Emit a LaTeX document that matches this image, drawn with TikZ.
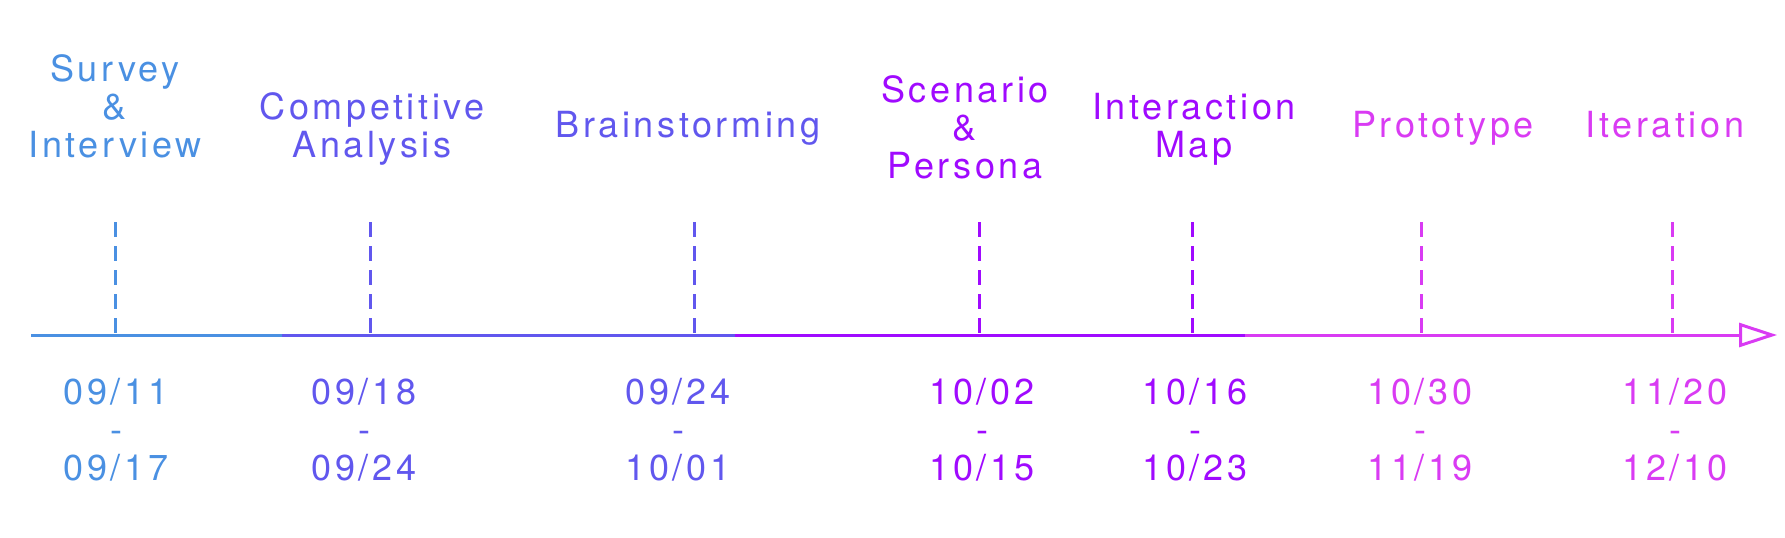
\documentclass[tikz,border=0pt]{standalone}
\usepackage{fontspec}
\setmainfont{TeX Gyre Heros}[LetterSpace=10]
\usetikzlibrary{arrows.meta}
\usepackage{xcolor}
\definecolor{phaseblue}{HTML}{4A90E2}
\definecolor{phaseindigo}{HTML}{6157EE}
\definecolor{phasepurple}{HTML}{A00AFF}
\definecolor{phasepink}{HTML}{D93BF3}

\begin{document}
\begin{tikzpicture}[x=0.5pt,y=-0.5pt]
\tikzstyle{every node}+=[inner sep=0pt,font=\fontsize{18}{19}\selectfont,align=center,anchor=base]
\tikzstyle{tick}=[line width=1.5pt,dash pattern=on 7.5pt off 4.5pt]
\tikzstyle{axis}=[line width=1.5pt]
\useasboundingbox (0,0) rectangle (1785,537);
% axis
\coordinate (a0) at (31,335);
\coordinate (a1) at (282,335);
\coordinate (a2) at (735,335);
\coordinate (a3) at (1245,335);
\coordinate (a4) at (1777,335);
\draw [axis,phaseblue] (a0) -- (a1);
\draw [axis,phaseindigo] (a1) -- (a2);
\draw [axis,phasepurple] (a2) -- (a3);
\draw [axis,phasepink,-{Triangle[open,length=19pt,width=12pt]}] (a3) -- (a4);
% ticks
\coordinate (k1) at (115,222);
\coordinate (k2) at (370,222);
\coordinate (k3) at (694,222);
\coordinate (k4) at (979,222);
\coordinate (k5) at (1192,222);
\coordinate (k6) at (1421,222);
\coordinate (k7) at (1672,222);
\draw [tick,phaseblue] (k1) -- (k1 |- a0);
\draw [tick,phaseindigo] (k2) -- (k2 |- a0);
\draw [tick,phaseindigo] (k3) -- (k3 |- a0);
\draw [tick,phasepurple] (k4) -- (k4 |- a0);
\draw [tick,phasepurple] (k5) -- (k5 |- a0);
\draw [tick,phasepink] (k6) -- (k6 |- a0);
\draw [tick,phasepink] (k7) -- (k7 |- a0);
% phases (base = last line)
\node [text=phaseblue] (survey) at (115,157) {Survey\\\&\\Interview};
\node [text=phaseindigo] (compet) at (372,157) {Competitive\\Analysis};
\node [text=phaseindigo] (brain) at (688,137) {Brainstorming};
\node [text=phasepurple] (scen) at (965,178) {Scenario\\\&\\Persona};
\node [text=phasepurple] (imap) at (1194,157) {Interaction\\Map};
\node [text=phasepink] (proto) at (1443,137) {Prototype};
\node [text=phasepink] (iter) at (1665,137) {Iteration};
% dates
\node [text=phaseblue] (d1) at (116,480) {09/11\\-\\09/17};
\node [text=phaseindigo] (d2) at (364,480) {09/18\\-\\09/24};
\node [text=phaseindigo] (d3) at (678,480) {09/24\\-\\10/01};
\node [text=phasepurple] (d4) at (982,480) {10/02\\-\\10/15};
\node [text=phasepurple] (d5) at (1195,480) {10/16\\-\\10/23};
\node [text=phasepink] (d6) at (1420,480) {10/30\\-\\11/19};
\node [text=phasepink] (d7) at (1675,480) {11/20\\-\\12/10};
\end{tikzpicture}
\end{document}
